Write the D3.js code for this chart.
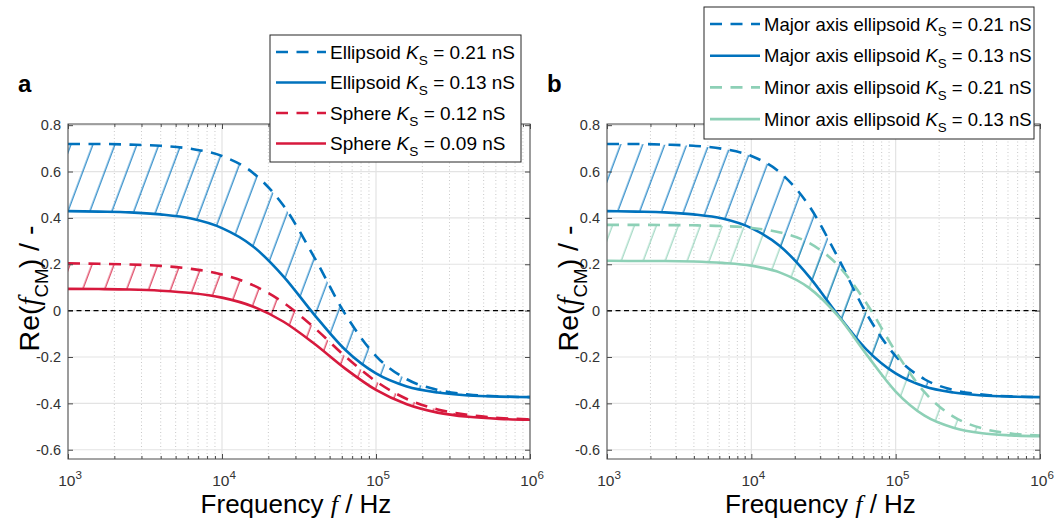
<!DOCTYPE html>
<html>
<head>
<meta charset="utf-8">
<script src="https://cdn.jsdelivr.net/npm/d3@7"></script>
<style>
  body { margin: 0; background: #fff; }
  svg { display: block; font-family: "Liberation Sans", Arial, sans-serif; }
</style>
</head>
<body>
<svg id="chart" width="1059" height="524"></svg>
<script>
// Frequencies (Hz), 0.2 decade steps
const freq = [1000, 1585, 2512, 3981, 6310, 10000, 15849, 25119, 39811, 63096,
  100000, 158489, 251189, 398107, 630957, 1000000];

// Re(f_CM)
const ellipsoid021 = [0.719, 0.719, 0.716, 0.711, 0.698, 0.667, 0.595, 0.452, 0.229, -0.015,
  -0.196, -0.296, -0.342, -0.362, -0.370, -0.373];
const ellipsoid013 = [0.429, 0.427, 0.424, 0.415, 0.397, 0.356, 0.278, 0.147, -0.018, -0.169,
  -0.271, -0.327, -0.353, -0.366, -0.371, -0.373];
const sphere012 = [0.204, 0.202, 0.199, 0.193, 0.180, 0.156, 0.110, 0.034, -0.074, -0.197,
  -0.305, -0.381, -0.426, -0.450, -0.463, -0.469];
const sphere009 = [0.094, 0.093, 0.091, 0.086, 0.076, 0.056, 0.018, -0.048, -0.143, -0.250,
  -0.342, -0.404, -0.440, -0.458, -0.467, -0.471];
const minor021 = [0.370, 0.370, 0.369, 0.368, 0.365, 0.357, 0.337, 0.292, 0.196, 0.030,
  -0.177, -0.352, -0.457, -0.508, -0.530, -0.539];
const minor013 = [0.215, 0.214, 0.214, 0.212, 0.206, 0.194, 0.164, 0.098, -0.023, -0.191,
  -0.349, -0.453, -0.505, -0.529, -0.538, -0.542];

const yTicks = [-0.6, -0.4, -0.2, 0, 0.2, 0.4, 0.6, 0.8];
const xTicks = [1e3, 1e4, 1e5, 1e6];

const blue = "#0072BD";
const red = "#D7193D";
const teal = "#8DD0B6";

const svg = d3.select("#chart");
const defs = svg.append("defs");

// hatch pattern: thin parallel lines, tilted up to the right
function hatch(id, color) {
  const p = defs.append("pattern")
    .attr("id", id)
    .attr("patternUnits", "userSpaceOnUse")
    .attr("x", 4)
    .attr("width", 20.6)
    .attr("height", 20)
    .attr("patternTransform", "rotate(20.5)");
  p.append("line")
    .attr("x1", 10).attr("x2", 10)
    .attr("y1", -1).attr("y2", 21)
    .attr("stroke", color)
    .attr("stroke-width", 1.1);
}
hatch("hatch-blue", blue);
hatch("hatch-red", red);
hatch("hatch-teal", teal);

// text with italic / sub / sup parts
function rich(text, parts, size) {
  let shift = 0;
  parts.forEach(p => {
    const ts = text.append("tspan").text(p.t);
    const target = p.sub ? size * 0.32 : p.sup ? -size * 0.45 : 0;
    if (target !== shift) { ts.attr("dy", target - shift); shift = target; }
    if (p.sub || p.sup) ts.attr("font-size", size * (p.small || 0.72));
    if (p.italic) ts.attr("font-style", "italic");
    if (p.serif) ts.attr("font-family", "'Liberation Serif', 'DejaVu Serif', serif");
  });
}

function drawPanel(opt) {
  const top = 124, bottom = 459;
  const x = d3.scaleLog().domain([1e3, 1e6]).range([opt.left, opt.right]);
  const y = d3.scaleLinear().domain([-0.64, 0.805]).range([bottom, top]);
  const g = svg.append("g");

  defs.append("clipPath").attr("id", opt.id + "-clip")
    .append("rect")
    .attr("x", opt.left).attr("y", top)
    .attr("width", opt.right - opt.left).attr("height", bottom - top);

  const minorTicks = x.ticks().filter(d => !xTicks.includes(d));

  // minor grid (dotted)
  g.append("g").selectAll("line")
    .data(minorTicks)
    .join("line")
    .attr("x1", d => x(d)).attr("x2", d => x(d))
    .attr("y1", top).attr("y2", bottom)
    .attr("stroke", "#c8c8c8")
    .attr("stroke-width", 1)
    .attr("stroke-dasharray", "1,2.5");

  // major grid
  g.append("g").selectAll("line")
    .data(xTicks)
    .join("line")
    .attr("x1", d => x(d)).attr("x2", d => x(d))
    .attr("y1", top).attr("y2", bottom)
    .attr("stroke", "#e3e3e3")
    .attr("stroke-width", 1.2);
  g.append("g").selectAll("line")
    .data(yTicks)
    .join("line")
    .attr("x1", opt.left).attr("x2", opt.right)
    .attr("y1", d => y(d)).attr("y2", d => y(d))
    .attr("stroke", "#e3e3e3")
    .attr("stroke-width", 1.2);

  const plot = g.append("g").attr("clip-path", `url(#${opt.id}-clip)`);

  // hatched bands between the two curves of each pair
  opt.pairs.forEach(pr => {
    const area = d3.area()
      .x((d, i) => x(freq[i]))
      .y0((d, i) => y(pr.low[i]))
      .y1((d, i) => y(pr.high[i]))
      .curve(d3.curveMonotoneX);
    plot.append("path")
      .datum(freq)
      .attr("d", area)
      .attr("fill", `url(#${pr.hatch})`)
      .attr("stroke", "none");
  });

  // zero line
  plot.append("line")
    .attr("x1", opt.left).attr("x2", opt.right)
    .attr("y1", y(0)).attr("y2", y(0))
    .attr("stroke", "#000")
    .attr("stroke-width", 1.2)
    .attr("stroke-dasharray", "5,3.5");

  const line = d3.line()
    .x((d, i) => x(freq[i]))
    .y(d => y(d))
    .curve(d3.curveMonotoneX);

  opt.series.forEach(s => {
    plot.append("path")
      .datum(s.values)
      .attr("d", line)
      .attr("fill", "none")
      .attr("stroke", s.color)
      .attr("stroke-width", 2.6)
      .attr("stroke-dasharray", s.dashed ? "12,8.5" : null);
  });

  // axes (ticks inside, MATLAB box style)
  const axisColor = "#4a4a4a";
  const yLeft = g.append("g")
    .attr("transform", `translate(${opt.left},0)`)
    .call(d3.axisLeft(y).tickValues(yTicks).tickSizeInner(-5).tickSizeOuter(0).tickPadding(7)
      .tickFormat(d => d === 0 ? "0" : d.toFixed(1)));
  const yRight = g.append("g")
    .attr("transform", `translate(${opt.right},0)`)
    .call(d3.axisRight(y).tickValues(yTicks).tickSizeInner(-5).tickSizeOuter(0));
  const xBottom = g.append("g")
    .attr("transform", `translate(0,${bottom})`)
    .call(d3.axisBottom(x).tickValues(xTicks).tickSizeInner(-5).tickSizeOuter(0));
  const xBottomMinor = g.append("g")
    .attr("transform", `translate(0,${bottom})`)
    .call(d3.axisBottom(x).tickValues(minorTicks).tickSizeInner(-3).tickSizeOuter(0));
  const xTop = g.append("g")
    .attr("transform", `translate(0,${top})`)
    .call(d3.axisTop(x).tickValues(xTicks).tickSizeInner(-5).tickSizeOuter(0));
  const xTopMinor = g.append("g")
    .attr("transform", `translate(0,${top})`)
    .call(d3.axisTop(x).tickValues(minorTicks).tickSizeInner(-3).tickSizeOuter(0));

  [yLeft, yRight, xBottom, xBottomMinor, xTop, xTopMinor].forEach(a => {
    a.select(".domain").remove();
    a.selectAll("line").attr("stroke", axisColor);
  });
  [yRight, xBottom, xBottomMinor, xTop, xTopMinor].forEach(a => a.selectAll("text").remove());
  yLeft.selectAll("text")
    .attr("font-family", "'Liberation Sans', Arial, sans-serif")
    .attr("font-size", 14.5)
    .attr("fill", "#333");

  // box
  g.append("rect")
    .attr("x", opt.left).attr("y", top)
    .attr("width", opt.right - opt.left).attr("height", bottom - top)
    .attr("fill", "none")
    .attr("stroke", axisColor)
    .attr("stroke-width", 1);

  // x tick labels 10^n
  xTicks.forEach((d, i) => {
    const t = g.append("text")
      .attr("x", x(d) + 2)
      .attr("y", 486)
      .attr("text-anchor", "middle")
      .attr("font-size", 15.5)
      .attr("fill", "#333");
    rich(t, [{ t: "10" }, { t: String(3 + i), sup: true, small: 0.75 }], 15.5);
  });

  // axis titles
  const xt = g.append("text")
    .attr("x", (opt.left + opt.right) / 2 - 3)
    .attr("y", 513)
    .attr("text-anchor", "middle")
    .attr("font-size", 26)
    .attr("fill", "#000");
  rich(xt, [{ t: "Frequency " }, { t: "f", italic: true, serif: true }, { t: " / Hz" }], 26);

  const yt = g.append("text")
    .attr("transform", `translate(${opt.left - 29},${(top + bottom) / 2 - 3}) rotate(-90)`)
    .attr("text-anchor", "middle")
    .attr("font-size", 28.5)
    .attr("fill", "#000");
  rich(yt, [{ t: "Re(" }, { t: "f", italic: true, serif: true }, { t: "CM", sub: true, small: 0.66 }, { t: ") / -" }], 28.5);

  // panel letter
  g.append("text")
    .attr("x", opt.letterX)
    .attr("y", 92)
    .attr("font-size", 24)
    .attr("font-weight", "bold")
    .text(opt.letter);

  // legend
  const lg = g.append("g");
  lg.append("rect")
    .attr("x", opt.legend.x).attr("y", opt.legend.y)
    .attr("width", opt.legend.w).attr("height", opt.legend.h)
    .attr("fill", "#fff")
    .attr("stroke", "#262626")
    .attr("stroke-width", 1);
  opt.series.forEach((s, i) => {
    const ry = opt.legend.y + opt.legend.row0 + i * opt.legend.dy;
    lg.append("line")
      .attr("x1", opt.legend.x + 6).attr("x2", opt.legend.x + 56)
      .attr("y1", ry).attr("y2", ry)
      .attr("stroke", s.color)
      .attr("stroke-width", 2.6)
      .attr("stroke-dasharray", s.dashed ? "12,8.5" : null);
    const t = lg.append("text")
      .attr("x", opt.legend.x + 60)
      .attr("y", ry + 6.5)
      .attr("font-size", opt.legend.font)
      .attr("fill", "#000");
    rich(t, [{ t: s.name + " " }, { t: "K", italic: true }, { t: "S", sub: true }, { t: " = " + s.ks + " nS" }], opt.legend.font);
  });
}

drawPanel({
  id: "pa", left: 68, right: 530, letter: "a", letterX: 18,
  legend: { x: 270, y: 35, w: 251, h: 127, row0: 17, dy: 30.5, font: 19 },
  series: [
    { name: "Ellipsoid", ks: "0.21", values: ellipsoid021, color: blue, dashed: true },
    { name: "Ellipsoid", ks: "0.13", values: ellipsoid013, color: blue, dashed: false },
    { name: "Sphere", ks: "0.12", values: sphere012, color: red, dashed: true },
    { name: "Sphere", ks: "0.09", values: sphere009, color: red, dashed: false }
  ],
  pairs: [
    { low: ellipsoid013, high: ellipsoid021, hatch: "hatch-blue" },
    { low: sphere009, high: sphere012, hatch: "hatch-red" }
  ]
});

drawPanel({
  id: "pb", left: 607, right: 1040, letter: "b", letterX: 547,
  legend: { x: 704, y: 7, w: 330, h: 132, row0: 17, dy: 31.7, font: 18.5 },
  series: [
    { name: "Major axis ellipsoid", ks: "0.21", values: ellipsoid021, color: blue, dashed: true },
    { name: "Major axis ellipsoid", ks: "0.13", values: ellipsoid013, color: blue, dashed: false },
    { name: "Minor axis ellipsoid", ks: "0.21", values: minor021, color: teal, dashed: true },
    { name: "Minor axis ellipsoid", ks: "0.13", values: minor013, color: teal, dashed: false }
  ],
  pairs: [
    { low: minor013, high: minor021, hatch: "hatch-teal" },
    { low: ellipsoid013, high: ellipsoid021, hatch: "hatch-blue" }
  ]
});
</script>
</body>
</html>
